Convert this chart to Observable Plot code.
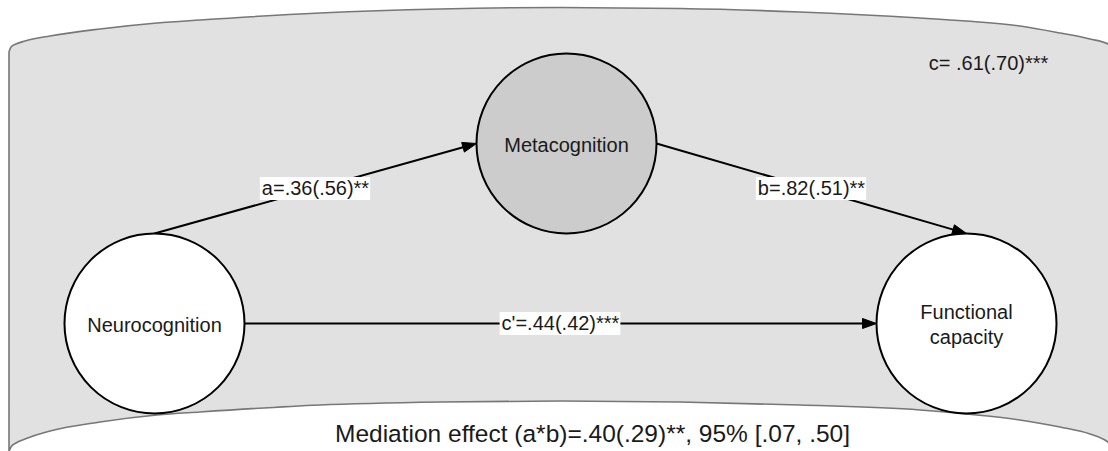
<!DOCTYPE html>
<html><head><meta charset="utf-8">
<script src="https://cdn.jsdelivr.net/npm/d3@7"></script>
<script src="https://cdn.jsdelivr.net/npm/@observablehq/plot@0.6"></script>
<style>html,body{margin:0;padding:0;background:#fff;overflow:hidden}</style>
</head><body><div id="chart"></div>
<script>
// ---- data ----
const nodeNames = ["Neurocognition", "Metacognition", "Functional capacity"];
const nodeLabels = ["Neurocognition", "Metacognition", "Functional\ncapacity"];
const pathNames = ["a", "b", "c'"];
const pathFrom = ["Neurocognition", "Metacognition", "Neurocognition"];
const pathTo = ["Metacognition", "Functional capacity", "Functional capacity"];
const pathCoef = [".36", ".82", ".44"];
const pathStd = [".56", ".51", ".42"];
const pathSig = ["**", "**", "***"];
const totalName = ["c"];
const totalCoef = [".61"];
const totalStd = [".70"];
const totalSig = ["***"];
const indirectCoef = [".40"];
const indirectStd = [".29"];
const indirectSig = ["**"];
const indirectCI = [".07", ".50"];

// ---- layout (pixel space) ----
const W = 1108, H = 451;
const FONT = '"Liberation Sans", Arial, sans-serif';
const layout = {
  "Neurocognition": {cx: 154, cy: 323, r: 90, fill: "#ffffff"},
  "Metacognition": {cx: 566, cy: 143, r: 90, fill: "#cccccc"},
  "Functional capacity": {cx: 966, cy: 323, r: 90, fill: "#ffffff"}
};
const anchors = {a: ["top", "left"], b: ["right", "top"], "c'": ["right", "left"]};
const totalPos = {x: 988, y: 63};
const mediationPos = {x: 592, y: 434};
// background "band" outline
const bandX =   [9,   11,  16,  25,  50,  100, 157, 200, 320, 440, 560, 680, 800, 920, 966, 1020, 1060, 1090, 1108, 1118];
const bandTop = [52,  47,  44,  41,  36,  29,  23,  20,  13,  9,   7.5, 8.5, 12,  18,  21,  26,   33,   39,   44,   52];
const bandBot = [451, 447, 443, 439, 431, 422, 415, 412, 405, 402, 401, 402, 405, 410, 414, 420,  427,  434,  442,  451];

function anchorPt(name, side) {
  const n = layout[name];
  if (side === "top") return [n.cx, n.cy - n.r];
  if (side === "left") return [n.cx - n.r, n.cy];
  if (side === "right") return [n.cx + n.r, n.cy];
  return [n.cx, n.cy + n.r];
}
const ctx = document.createElement("canvas").getContext("2d");
function textW(s, size) { ctx.font = `${size}px ${FONT}`; return ctx.measureText(s).width; }

const nodes = nodeNames.map((n, i) => ({name: n, label: nodeLabels[i], x: layout[n].cx, y: layout[n].cy, r: layout[n].r, fill: layout[n].fill}));
const HEAD_L = 14, HEAD_W = 10, FS = 20;
const edges = pathNames.map((p, i) => {
  const [s, t] = anchors[p];
  const [x1, y1] = anchorPt(pathFrom[i], s);
  const [x2, y2] = anchorPt(pathTo[i], t);
  const len = Math.hypot(x2 - x1, y2 - y1);
  const ux = (x2 - x1) / len, uy = (y2 - y1) / len;
  const label = `${p}=${pathCoef[i]}(${pathStd[i]})${pathSig[i]}`;
  const lw = textW(label, FS);
  const mx = (x1 + x2) / 2, my = (y1 + y2) / 2 + 0.5;
  return {p, x1, y1, x2: x2 - ux * (HEAD_L - 2), y2: y2 - uy * (HEAD_L - 2), tx: x2, ty: y2, ux, uy, label, lw, mx, my,
          bx1: mx - lw / 2 - 1.5, bx2: mx + lw / 2 + 1.5, by1: my - FS * 0.575, by2: my + FS * 0.575};
});
const heads = edges.flatMap(e => {
  const bx = e.tx - e.ux * HEAD_L, by = e.ty - e.uy * HEAD_L;
  const px = -e.uy * HEAD_W / 2, py = e.ux * HEAD_W / 2;
  return [
    {p: e.p, x: e.tx, y: e.ty},
    {p: e.p, x: bx + px, y: by + py},
    {p: e.p, x: bx - px, y: by - py},
    {p: e.p, x: e.tx, y: e.ty}
  ];
});
const band = bandX.map((x, i) => ({x, top: bandTop[i], bot: bandBot[i]}));
const totalLabel = `${totalName[0]}= ${totalCoef[0]}(${totalStd[0]})${totalSig[0]}`;
const medLabel = `Mediation effect (a*b)=${indirectCoef[0]}(${indirectStd[0]})${indirectSig[0]}, 95% [${indirectCI[0]}, ${indirectCI[1]}]`;

const chart = Plot.plot({
  width: W, height: H, margin: 0,
  x: {domain: [0, W], range: [0, W], axis: null},
  y: {domain: [0, H], range: [0, H], axis: null},
  r: {type: "identity"},
  style: {fontFamily: FONT, background: "#ffffff", overflow: "hidden"},
  marks: [
    Plot.areaY(band, {x: "x", y1: "bot", y2: "top", curve: "monotone-x", fill: "#e1e1e1", stroke: "#777777", strokeWidth: 1.6}),
    Plot.link(edges, {x1: "x1", y1: "y1", x2: "x2", y2: "y2", stroke: "#000", strokeWidth: 2}),
    Plot.line(heads, {x: "x", y: "y", z: "p", fill: "#000", stroke: "#000", strokeWidth: 1, strokeLinejoin: "miter"}),
    Plot.dot(nodes, {x: "x", y: "y", r: "r", fill: "fill", stroke: "#000", strokeWidth: 2}),
    Plot.text(nodes, {x: "x", y: "y", text: "label", fontSize: FS, fill: "#1a1a1a", lineHeight: 1.25}),
    Plot.rect(edges, {x1: "bx1", x2: "bx2", y1: "by1", y2: "by2", fill: "#fff"}),
    Plot.text(edges, {x: "mx", y: "my", text: "label", fontSize: FS, fill: "#1a1a1a"}),
    Plot.text([totalLabel], {x: () => totalPos.x, y: () => totalPos.y, text: d => d, fontSize: FS, fill: "#1a1a1a"}),
    Plot.text([medLabel], {x: () => mediationPos.x, y: () => mediationPos.y, text: d => d, fontSize: 24.5, fill: "#1a1a1a"})
  ]
});
document.getElementById("chart").append(chart);
</script>
</body></html>
